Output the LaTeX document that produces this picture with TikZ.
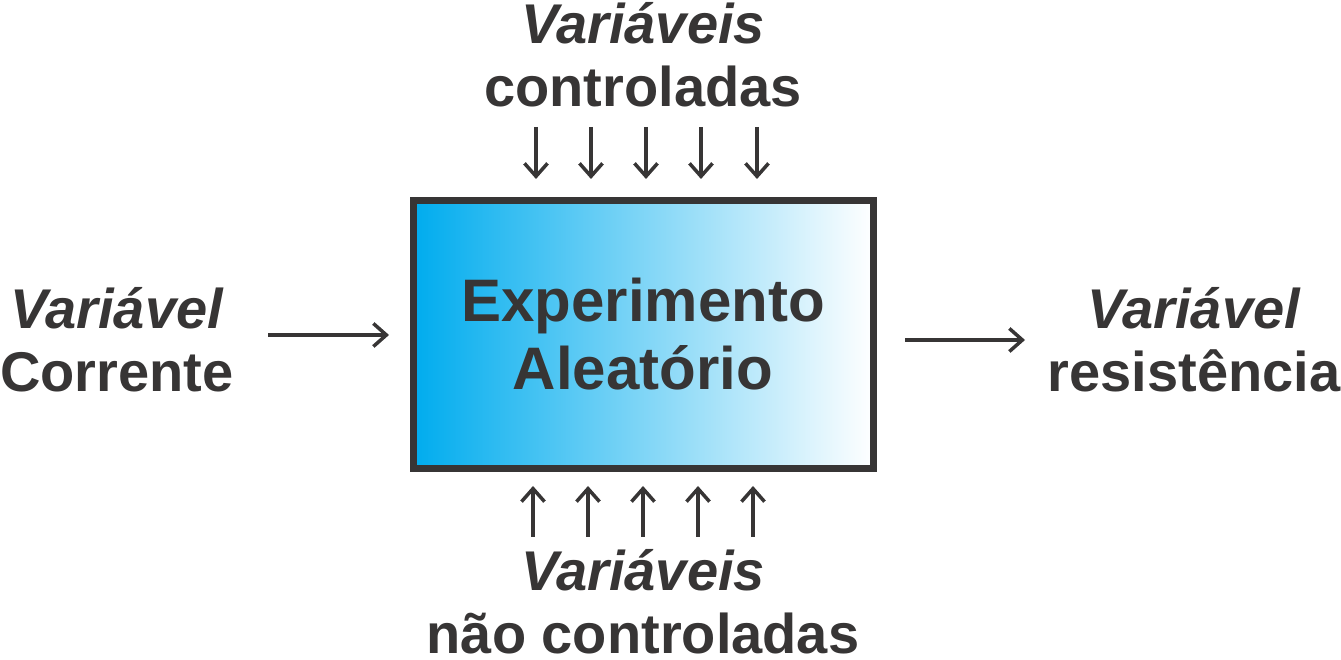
\documentclass[tikz,border=0pt]{standalone}
\usepackage{fontspec}
\setmainfont{Liberation Sans}
\usepackage{tikz}
\usetikzlibrary{arrows.meta}
\definecolor{txtgray}{RGB}{55,53,53}
\definecolor{expblue}{RGB}{0,172,238}
\tikzset{
    exp-box/.style = {draw=txtgray, line width=7pt, rectangle, left color=expblue, right color=white, minimum width=460pt, minimum height=268pt, inner sep=0pt},
    var-label/.style = {text=txtgray, align=center, inner sep=0pt, font=\fontsize{56}{63}\selectfont\bfseries},
    box-label/.style = {text=txtgray, align=center, inner sep=0pt, font=\fontsize{60}{68}\selectfont\bfseries},
    var-arrow/.style = {draw=txtgray, line width=3.5pt, -{Straight Barb[length=13pt,width=23pt,line width=3.5pt]}},
}
\begin{document}
\begin{tikzpicture}[x=1pt,y=1pt]
\useasboundingbox (0,0) rectangle (1341,660);
\node [exp-box] (exp) at (643.5,325.5) {};
\node [box-label, anchor=base] (exptext) at (643,270) {Experimento\\Aleatório};
\node [var-label, anchor=base] (ctrl) at (643,553) {\textit{Variáveis}\\controladas};
\node [var-label, anchor=base] (nctrl) at (643,6) {\textit{Variáveis}\\não controladas};
\node [var-label, anchor=base] (input) at (117,268) {\textit{Variável}\\Corrente};
\node [var-label, anchor=base] (output) at (1194,268) {\textit{Variável}\\resistência};
% arrows above and below the box
\foreach \i/\x in {1/536,2/591,3/646,4/701,5/757} {
    \coordinate (ta\i) at (\x,533);
    \coordinate (tb\i) at (\x,481);
    \draw [var-arrow] (ta\i) -- (tb\i);
}
\foreach \i/\x in {1/533,2/588,3/643,4/698,5/753} {
    \coordinate (ba\i) at (\x,123);
    \coordinate (bb\i) at (\x,174);
    \draw [var-arrow] (ba\i) -- (bb\i);
}
\coordinate (in-a) at (268,325);
\coordinate (in-b) at (389,325);
\coordinate (out-a) at (905,320);
\coordinate (out-b) at (1025,320);
\draw [var-arrow] (in-a) -- (in-b);
\draw [var-arrow] (out-a) -- (out-b);
\end{tikzpicture}
\end{document}
